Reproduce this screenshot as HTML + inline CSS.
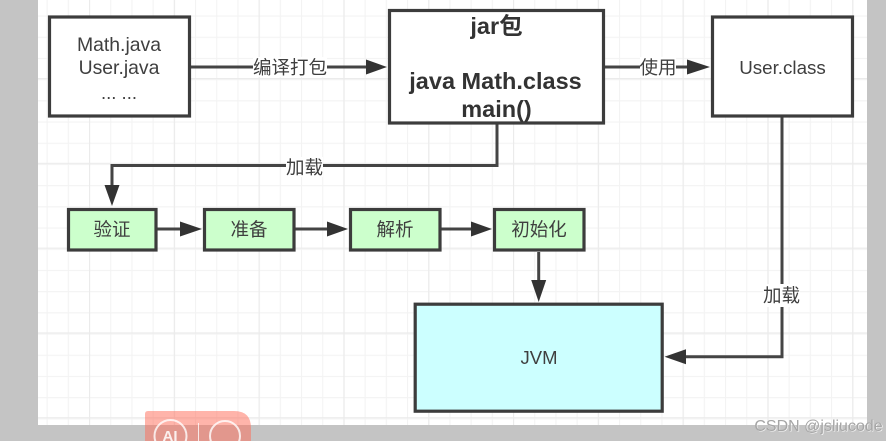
<!DOCTYPE html>
<html>
<head>
<meta charset="utf-8">
<style>
html,body{margin:0;padding:0;background:#c4c4c4;width:886px;height:441px;overflow:hidden}
svg{display:block;filter:blur(.35px)}
text{font-family:"Liberation Sans","Noto Sans CJK SC",sans-serif;fill:#3f3f3f;text-anchor:middle}
</style>
</head>
<body>
<svg width="886" height="441" viewBox="0 0 886 441" xmlns="http://www.w3.org/2000/svg">
<defs>
<pattern id="minor" x="4.2" y="15.5" width="21.2" height="21.2" patternUnits="userSpaceOnUse">
<path d="M0.5 0V21.2M0 0.5H21.2" stroke="#f3f3f3" stroke-width="1.2" fill="none"/>
</pattern>
<pattern id="major" x="4.2" y="78" width="84.8" height="84.8" patternUnits="userSpaceOnUse">
<path d="M0.5 0V84.8M0 0.5H84.8" stroke="#ebebeb" stroke-width="1.3" fill="none"/>
</pattern>
</defs>
<rect x="38" y="0" width="829" height="425" fill="#fff"/>
<rect x="38" y="0" width="829" height="425" fill="url(#minor)"/>
<rect x="38" y="0" width="829" height="425" fill="url(#major)"/>

<g fill="none" stroke="#444" stroke-width="3">
<path d="M191 67H368"/>
<path d="M605 67H689"/>
<path d="M497 124V165.5H112V187"/>
<path d="M157 229H182"/>
<path d="M295 229H329"/>
<path d="M441 229H473"/>
<path d="M538.7 252V282"/>
<path d="M782 117V356.7H684"/>
</g>
<g fill="#333">
<path d="M387 67L366 59.5V74.5Z"/>
<path d="M710 67L687 59.5V74.5Z"/>
<path d="M112 206L104.5 185H119.5Z"/>
<path d="M202 229L180 221.5V236.5Z"/>
<path d="M348 229L327 221.5V236.5Z"/>
<path d="M492 229L471 221.5V236.5Z"/>
<path d="M538.7 302L531.2 280H546.2Z"/>
<path d="M664.5 356.7L686 349.2V364.2Z"/>
</g>

<g stroke="#3c3c3c" stroke-width="3.2">
<rect x="49.5" y="17" width="140" height="99" fill="#fff"/>
<rect x="389.5" y="10.5" width="214" height="112.5" fill="#fff"/>
<rect x="712.5" y="17" width="140" height="99" fill="#fff"/>
<rect x="68.5" y="209.5" width="87.5" height="40.5" fill="#ccffcc"/>
<rect x="204.5" y="209.5" width="89.5" height="40.5" fill="#ccffcc"/>
<rect x="350.5" y="209.5" width="89.5" height="40.5" fill="#ccffcc"/>
<rect x="494.5" y="209.5" width="89.5" height="40.5" fill="#ccffcc"/>
<rect x="415.2" y="304.2" width="247" height="107" fill="#ccffff"/>
</g>

<g fill="#fff">
<rect x="253" y="57" width="74" height="20"/>
<rect x="640" y="57" width="36" height="20"/>
<rect x="286" y="157" width="37" height="20"/>
<rect x="763" y="284" width="37" height="23"/>
</g>

<g font-size="18.5">
<text x="119" y="51" font-size="19.4">Math.java</text>
<text x="119" y="74" font-size="19.4">User.java</text>
<text x="119" y="99">... ...</text>
<text x="782.5" y="74" font-size="18.8">User.class</text>
<text x="539" y="364">JVM</text>
<text x="290" y="74">编译打包</text>
<text x="658" y="74">使用</text>
<text x="304.5" y="174">加载</text>
<text x="781.5" y="302">加载</text>
<text x="112" y="236">验证</text>
<text x="249" y="236">准备</text>
<text x="395" y="236">解析</text>
<text x="539" y="236">初始化</text>
</g>
<g font-size="23.5" font-weight="bold">
<text x="496.5" y="34" style="fill:#333">jar包</text>
<text x="495.5" y="89" style="fill:#333">java Math.class</text>
<text x="496.5" y="117" style="fill:#333">main()</text>
</g>

<path d="M145 441V414Q145 411 148 411H234Q251 411 251 428V441Z" fill="#ff6a55" fill-opacity="0.5"/>
<g fill="none" stroke="#fff" stroke-opacity="0.8" stroke-width="2">
<circle cx="170.5" cy="436" r="16"/>
<circle cx="225" cy="436" r="15"/>
<path d="M198.5 423V441" stroke-width="1"/>
</g>
<text x="170" y="441" font-size="15" font-weight="bold" style="fill:#fff;fill-opacity:.85">AI</text>

<text x="818.5" y="431" font-size="16" style="fill:#fff;fill-opacity:.9" transform="translate(.7 .7)">CSDN @jsliucode</text>
<text x="818.5" y="431" font-size="16" style="fill:#a6a6a6">CSDN @jsliucode</text>
</svg>
</body>
</html>
